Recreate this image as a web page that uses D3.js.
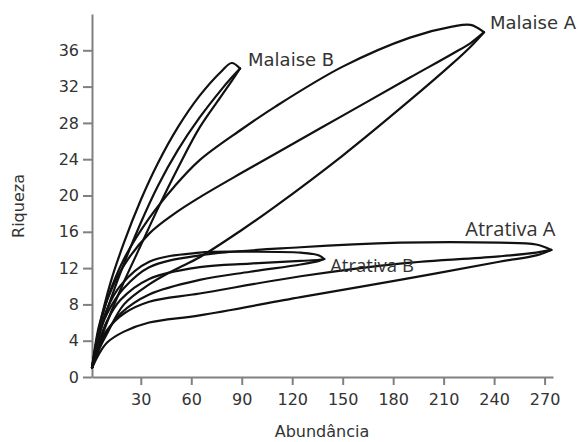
<!DOCTYPE html>
<html>
<head>
<meta charset="utf-8">
<script src="https://cdn.jsdelivr.net/npm/d3@7"></script>
<style>
body{margin:0;background:#fff;}
.axis path,.axis line{stroke:#808080;stroke-width:2;}
.axis text{fill:#333;font-family:"DejaVu Sans";font-size:16px;}
.curve{fill:none;stroke:#111;stroke-width:2.2;stroke-linejoin:round;stroke-linecap:round;}
</style>
</head>
<body>
<div id="chart"></div>
<script>
var w = 579;
var h = 442;

var xTicks = [30,60,90,120,150,180,210,240,270];
var yTicks = [0,4,8,12,16,20,24,28,32,36];

// Malaise A
var malaiseA_n     = [1, 5, 10, 20, 35, 50, 65, 90, 110, 150, 190, 215, 226, 234];
var malaiseA_upper = [1, 5, 8.5, 13, 17.5, 21, 23.9, 27.3, 29.8, 34.2, 37.4, 38.6, 38.8, 38];
var malaiseA_mean  = [1, 5.5, 8.5, 12.3, 15.8, 18, 19.8, 22.5, 24.6, 28.8, 33, 35.6, 36.8, 38];
var malaiseA_lower = [1, 3, 4.8, 8, 10.2, 11.8, 13.2, 16.2, 18.8, 24.4, 30.5, 34.5, 36.4, 38];

// Malaise B
var malaiseB_n     = [1, 5, 12, 20, 30, 40, 52, 65, 78, 84, 89];
var malaiseB_upper = [1, 5.2, 10.4, 14.8, 19.5, 23.5, 27.5, 31, 33.7, 34.6, 34];
var malaiseB_mean  = [1, 4.5, 8.5, 12.5, 17, 21, 25, 28.6, 31.7, 33, 34];
var malaiseB_lower = [1, 3.5, 7, 10.5, 14.5, 18.5, 23, 27.5, 31, 32.6, 34];

// Atrativa A
var atrativaA_n     = [1, 5, 10, 20, 35, 65, 125, 184, 243, 265, 274];
var atrativaA_upper = [1, 4.5, 7, 9.8, 12.1, 13.4, 14.3, 14.8, 14.8, 14.6, 14];
var atrativaA_mean  = [1, 3.5, 5.2, 7, 8.3, 9.2, 11.1, 12.5, 13.3, 13.7, 14];
var atrativaA_lower = [1, 2.5, 3.8, 5, 6, 6.8, 8.8, 10.7, 12.7, 13.4, 14];

// Atrativa B
var atrativaB_n     = [1, 5, 10, 18, 35, 65, 95, 125, 136, 139];
var atrativaB_upper = [1, 4.5, 7.5, 10.1, 12.7, 13.7, 13.8, 13.7, 13.4, 13];
var atrativaB_mean  = [1, 3.8, 6.2, 8.5, 10.8, 12.1, 12.5, 12.8, 12.9, 13];
var atrativaB_lower = [1, 3, 5, 7, 9.1, 10.7, 11.6, 12.4, 12.8, 13];

var labels = [
  {text:"Malaise A", n:234, s:38, dx:6, dy:-3, font:"DejaVu Sans", size:18},
  {text:"Malaise B", n:89, s:34, dx:8, dy:-2, font:"DejaVu Sans", size:18},
  {text:"Atrativa A", n:274, s:14, dx:-86, dy:-14, font:"Open Sans", size:20},
  {text:"Atrativa B", n:139, s:13, dx:6, dy:13, font:"Open Sans", size:18.5}
];

var xScale = d3.scaleLinear().domain([1, 275]).range([92, 553]);
var yScale = d3.scaleLinear().domain([0, 40]).range([377, 14]);

var svg = d3.select("#chart").append("svg")
  .attr("width", w)
  .attr("height", h);

// axes
svg.append("g")
  .attr("class", "axis")
  .attr("transform", "translate(0," + yScale(0) + ")")
  .call(d3.axisBottom(xScale).tickValues(xTicks).tickSize(8).tickSizeOuter(0).tickPadding(9));

svg.append("g")
  .attr("class", "axis")
  .attr("transform", "translate(" + xScale(1) + ",0)")
  .call(d3.axisLeft(yScale).tickValues(yTicks).tickSize(9).tickSizeOuter(0).tickPadding(4));

svg.append("text")
  .attr("transform", "translate(18," + 206 + ") rotate(-90)")
  .attr("text-anchor", "middle")
  .attr("dy", "0.35em")
  .style("font-family", "DejaVu Sans")
  .style("font-size", "16px")
  .style("fill", "#333")
  .text("Riqueza");

svg.append("text")
  .attr("x", 322)
  .attr("y", 437)
  .attr("text-anchor", "middle")
  .style("font-family", "DejaVu Sans")
  .style("font-size", "16px")
  .style("fill", "#333")
  .text("Abundância");

var line = d3.line()
  .x(function(d){ return xScale(d[0]); })
  .y(function(d){ return yScale(d[1]); })
  .curve(d3.curveCatmullRom.alpha(0.5));

function addCurve(ns, ss){
  var pts = ns.map(function(n, i){ return [n, ss[i]]; });
  svg.append("path")
    .datum(pts)
    .attr("class", "curve")
    .attr("d", line);
}

addCurve(malaiseA_n, malaiseA_upper);
addCurve(malaiseA_n, malaiseA_mean);
addCurve(malaiseA_n, malaiseA_lower);
addCurve(malaiseB_n, malaiseB_upper);
addCurve(malaiseB_n, malaiseB_mean);
addCurve(malaiseB_n, malaiseB_lower);
addCurve(atrativaA_n, atrativaA_upper);
addCurve(atrativaA_n, atrativaA_mean);
addCurve(atrativaA_n, atrativaA_lower);
addCurve(atrativaB_n, atrativaB_upper);
addCurve(atrativaB_n, atrativaB_mean);
addCurve(atrativaB_n, atrativaB_lower);

labels.forEach(function(l){
  svg.append("text")
    .attr("x", xScale(l.n) + l.dx)
    .attr("y", yScale(l.s) + l.dy)
    .style("font-family", l.font)
    .style("font-size", l.size + "px")
    .style("fill", "#333")
    .text(l.text);
});
</script>
</body>
</html>
